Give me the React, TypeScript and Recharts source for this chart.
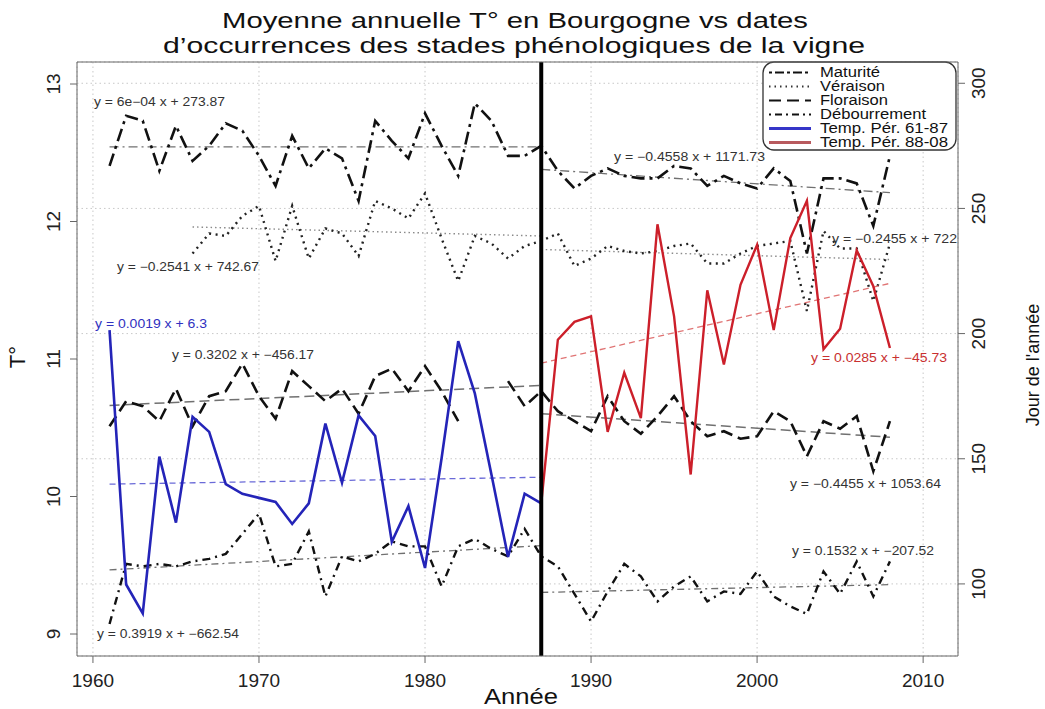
import React from 'react';
import { ComposedChart, Line, XAxis, YAxis, CartesianGrid, ReferenceLine } from 'recharts';

const FONT = '"Liberation Sans", Arial, Helvetica, sans-serif';

// years shown on the x axis
const years = [
  1961, 1962, 1963, 1964, 1965, 1966, 1967, 1968, 1969, 1970,
  1971, 1972, 1973, 1974, 1975, 1976, 1977, 1978, 1979, 1980,
  1981, 1982, 1983, 1984, 1985, 1986, 1987, 1988, 1989, 1990,
  1991, 1992, 1993, 1994, 1995, 1996, 1997, 1998, 1999, 2000,
  2001, 2002, 2003, 2004, 2005, 2006, 2007, 2008,
];
const yearTicks = [1960, 1970, 1980, 1990, 2000, 2010];
const tempTicks = [9, 10, 11, 12, 13];
const dayTicks = [100, 150, 200, 250, 300];

// mean annual temperature, 1961-1987 (blue) and 1987-2008 (red)
const tempPeriod1 = [
  11.21, 9.36, 9.15, 10.29, 9.81, 10.58, 10.47, 10.09, 10.02, 9.99,
  9.96, 9.8, 9.95, 10.53, 10.1, 10.59, 10.44, 9.67, 9.93, 9.48,
  10.28, 11.13, 10.75, 10.16, 9.56, 10.02, 9.95,
];
const tempPeriod2 = [
  9.95, 11.14, 11.27, 11.31, 10.47, 10.9, 10.57, 11.98, 11.31, 10.16,
  11.5, 10.96, 11.54, 11.83, 11.21, 11.88, 12.15, 11.07, 11.22, 11.79,
  11.53, 11.08,
];

// phenological stages, day of year
const maturite = [
  267, 287, 285, 265, 283, 269, 275, 284, 281, 271,
  259, 279, 266, 274, 270, 253, 285, 277, 270, 288,
  275, 263, 292, 285, 271, 271, 275, 265, 258, 263,
  266, 263, 262, 262, 267, 266, 259, 263, 260, 258,
  266, 261, 232, 262, 262, 260, 243, 271,
];
const veraisonStart = 1966;
const veraison = [
  232, 240, 239, 247, 251, 229, 251, 230, 242, 240,
  231, 253, 250, 246, 256, 238, 221, 239, 236, 230,
  235, 237, 240, 227, 230, 235, 233, 232, 233, 235,
  236, 228, 228, 232, 235, 236, 237, 209, 241, 234,
  234, 213, 236,
];
const floraison = [
  163, 173, 171, 165, 178, 163, 175, 177, 188, 175,
  166, 185, 179, 173, 178, 168, 183, 186, 177, 187,
  177, 165, null, null, 181, 171, 177, 169, 165, 161,
  175, 165, 160, 167, 175, 165, 159, 161, 158, 159,
  169, 165, 151, 165, 162, 167, 145, 165,
];
const debourrement = [
  84, 108, 107, 108, 107, 109, 110, 112, 120, 128,
  107, 108, 121, 95, 111, 109, 112, 117, 115, 115,
  99, 115, 118, 114, 111, 122, 111, 107, 96, 85,
  97, 108, 103, 93, 99, 103, 93, 97, 96, 105,
  95, 91, 88, 105, 96, 109, 95, 109,
];

// fitted trend segments, end points
const fitYears1 = [1961, 1987];
const fitYears2 = [1987, 2008];
const veraisonFitYears1 = [1966, 1987];
const tempFit1 = [10.09, 10.14];
const tempFit2 = [10.97, 11.55];
const maturiteFit1 = [274.6, 274.6];
const maturiteFit2 = [265.6, 256.3];
const veraisonFit1 = [242.6, 239.0];
const veraisonFit2 = [233.6, 229.6];
const floraisonFit1 = [171.3, 179.3];
const floraisonFit2 = [168.0, 158.6];
const debourrementFit1 = [105.6, 115.3];
const debourrementFit2 = [96.6, 99.7];

const rows: Record<string, number | null>[] = years.map((year, i) => {
  const row: Record<string, number | null> = {
    year,
    mat: maturite[i],
    flo: floraison[i],
    deb: debourrement[i],
  };
  if (year >= veraisonStart) row.ver = veraison[year - veraisonStart];
  if (year <= 1987) row.temp1 = tempPeriod1[i];
  if (year >= 1987) row.temp2 = tempPeriod2[year - 1987];
  return row;
});

const setFit = (key: string, ys: number[], vals: number[]) => {
  ys.forEach((y, k) => {
    const r = rows.find(row => row.year === y);
    if (r) r[key] = vals[k];
  });
};
setFit('tempFit1', fitYears1, tempFit1);
setFit('tempFit2', fitYears2, tempFit2);
setFit('matFit1', fitYears1, maturiteFit1);
setFit('matFit2', fitYears2, maturiteFit2);
setFit('verFit1', veraisonFitYears1, veraisonFit1);
setFit('verFit2', fitYears2, veraisonFit2);
setFit('floFit1', fitYears1, floraisonFit1);
setFit('floFit2', fitYears2, floraisonFit2);
setFit('debFit1', fitYears1, debourrementFit1);
setFit('debFit2', fitYears2, debourrementFit2);

const legendItems = [
  { label: 'Maturité', color: '#111', dash: '3 3 9 3', width: 2, w: 60 },
  { label: 'Véraison', color: '#333', dash: '1.5 4', width: 2, w: 65 },
  { label: 'Floraison', color: '#111', dash: '12 6', width: 2, w: 68 },
  { label: 'Débourrement', color: '#111', dash: '2 4 7 4', width: 2, w: 106 },
  { label: 'Temp. Pér. 61-87', color: '#3535c8', dash: '', width: 3, w: 128 },
  { label: 'Temp. Pér. 88-08', color: '#b85a5e', dash: '', width: 3, w: 128 },
];

const annotations = [
  { text: 'y = 6e\u221204 x + 273.87', x: 94, y: 102, w: 131, color: '#333' },
  { text: 'y = \u22120.2541 x + 742.67', x: 117, y: 267, w: 142, color: '#333' },
  { text: 'y = 0.0019 x + 6.3', x: 95, y: 324, w: 112, color: '#3030c0' },
  { text: 'y = 0.3202 x + \u2212456.17', x: 172, y: 355, w: 142, color: '#333' },
  { text: 'y = 0.3919 x + \u2212662.54', x: 97, y: 634, w: 142, color: '#333' },
  { text: 'y = \u22120.4558 x + 1171.73', x: 614, y: 157, w: 151, color: '#333' },
  { text: 'y = \u22120.2455 x + 722', x: 832, y: 239, w: 125, color: '#333' },
  { text: 'y = 0.0285 x + \u221245.73', x: 811, y: 358, w: 136, color: '#c83030' },
  { text: 'y = \u22120.4455 x + 1053.64', x: 790, y: 484, w: 151, color: '#333' },
  { text: 'y = 0.1532 x + \u2212207.52', x: 792, y: 551, w: 142, color: '#333' },
];

const XTick = (props: any) => {
  const { x, payload } = props;
  return (
    <text x={x} y={687} textAnchor="middle" fontSize={19} fontFamily={FONT} fill="#222">
      {payload.value}
    </text>
  );
};

const LeftTick = (props: any) => {
  const { y, payload } = props;
  return (
    <text transform={`translate(53,${y}) rotate(-90)`} textAnchor="middle" dy="0.36em" fontSize={19} fontFamily={FONT} fill="#222">
      {payload.value}
    </text>
  );
};

const RightTick = (props: any) => {
  const { y, payload } = props;
  return (
    <text transform={`translate(978,${y}) rotate(-90)`} textAnchor="middle" dy="0.36em" fontSize={19} fontFamily={FONT} fill="#222">
      {payload.value}
    </text>
  );
};

const LegendBox = () => (
  <svg width={196} height={92} style={{ position: 'absolute', left: 762, top: 61 }}>
    <rect x={1} y={1} width={193} height={88} rx={11} fill="#fff" stroke="#333" strokeWidth={1.3} />
    {legendItems.map((it, i) => {
      const cy = 11.5 + i * 14;
      return (
        <g key={it.label}>
          <line x1={7} x2={49} y1={cy} y2={cy} stroke={it.color} strokeWidth={it.width} strokeDasharray={it.dash || undefined} />
          <text x={58} y={cy} dy="0.35em" fontSize={14} fontFamily={FONT} fill="#111" textLength={it.w} lengthAdjust="spacingAndGlyphs">{it.label}</text>
        </g>
      );
    })}
  </svg>
);

export default function App() {
  return (
    <div style={{ position: 'absolute', left: 0, top: 0, width: 1045, height: 709, background: '#fff' }}>
      <ComposedChart width={1045} height={709} data={rows} margin={{ top: 62, right: 27, bottom: 23, left: 27 }}>
        <CartesianGrid yAxisId="d" stroke="#c8c8c8" strokeDasharray="1.5 3" horizontal vertical />
        <XAxis
          type="number"
          dataKey="year"
          domain={[1959.04, 2012.1]}
          ticks={yearTicks}
          height={30}
          tickSize={7}
          stroke="#666"
          tick={<XTick />}
        />
        <YAxis yAxisId="t" domain={[8.84, 13.16]} ticks={tempTicks} width={50} tickSize={7} stroke="#666" tick={<LeftTick />} />
        <YAxis yAxisId="d" orientation="right" domain={[71.2, 308.5]} ticks={dayTicks} width={60} tickSize={7} stroke="#666" tick={<RightTick />} />

        <Line yAxisId="d" dataKey="matFit1" stroke="#707070" strokeWidth={1.3} strokeDasharray="9 4 2 4" dot={false} connectNulls isAnimationActive={false} />
        <Line yAxisId="d" dataKey="matFit2" stroke="#707070" strokeWidth={1.3} strokeDasharray="9 4 2 4" dot={false} connectNulls isAnimationActive={false} />
        <Line yAxisId="d" dataKey="verFit1" stroke="#8a8a8a" strokeWidth={1.4} strokeDasharray="1.5 3" dot={false} connectNulls isAnimationActive={false} />
        <Line yAxisId="d" dataKey="verFit2" stroke="#8a8a8a" strokeWidth={1.4} strokeDasharray="1.5 3" dot={false} connectNulls isAnimationActive={false} />
        <Line yAxisId="d" dataKey="floFit1" stroke="#707070" strokeWidth={1.5} strokeDasharray="10 5" dot={false} connectNulls isAnimationActive={false} />
        <Line yAxisId="d" dataKey="floFit2" stroke="#707070" strokeWidth={1.5} strokeDasharray="10 5" dot={false} connectNulls isAnimationActive={false} />
        <Line yAxisId="d" dataKey="debFit1" stroke="#707070" strokeWidth={1.3} strokeDasharray="7 4 2 4" dot={false} connectNulls isAnimationActive={false} />
        <Line yAxisId="d" dataKey="debFit2" stroke="#707070" strokeWidth={1.3} strokeDasharray="7 4 2 4" dot={false} connectNulls isAnimationActive={false} />

        <Line yAxisId="d" dataKey="mat" stroke="#111" strokeWidth={2.6} strokeDasharray="13 5 3 5" dot={false} isAnimationActive={false} />
        <Line yAxisId="d" dataKey="ver" stroke="#222" strokeWidth={2.4} strokeDasharray="2 4.5" dot={false} isAnimationActive={false} />
        <Line yAxisId="d" dataKey="flo" stroke="#111" strokeWidth={2.6} strokeDasharray="12 6" dot={false} isAnimationActive={false} />
        <Line yAxisId="d" dataKey="deb" stroke="#111" strokeWidth={2.4} strokeDasharray="8 5 2 5" dot={false} isAnimationActive={false} />

        <Line yAxisId="t" dataKey="tempFit1" stroke="#6a6ad8" strokeWidth={1.3} strokeDasharray="6 4" dot={false} connectNulls isAnimationActive={false} />
        <Line yAxisId="t" dataKey="tempFit2" stroke="#e07474" strokeWidth={1.3} strokeDasharray="6 4" dot={false} connectNulls isAnimationActive={false} />
        <Line yAxisId="t" dataKey="temp1" stroke="#2424b8" strokeWidth={2.6} dot={false} isAnimationActive={false} />
        <Line yAxisId="t" dataKey="temp2" stroke="#cc1f2a" strokeWidth={2.4} dot={false} isAnimationActive={false} />

        <ReferenceLine yAxisId="t" x={1987} stroke="#000" strokeWidth={4} />
      </ComposedChart>

      <LegendBox />

      <svg width={1045} height={709} style={{ position: 'absolute', left: 0, top: 0, pointerEvents: 'none' }}>
        <line x1={77} x2={958} y1={62} y2={62} stroke="#666" strokeWidth={1} />
        <text x={515} y={28} textAnchor="middle" fontSize={22} fontFamily={FONT} fill="#111" textLength={586} lengthAdjust="spacingAndGlyphs">
          Moyenne annuelle T° en Bourgogne vs dates
        </text>
        <text x={514} y={53} textAnchor="middle" fontSize={22} fontFamily={FONT} fill="#111" textLength={702} lengthAdjust="spacingAndGlyphs">
          d’occurrences des stades phénologiques de la vigne
        </text>
        <text x={521} y={704} textAnchor="middle" fontSize={22} fontFamily={FONT} fill="#111" textLength={74} lengthAdjust="spacingAndGlyphs">
          Année
        </text>
        <text transform="translate(17,357) rotate(-90)" textAnchor="middle" dy="0.36em" fontSize={22} fontFamily={FONT} fill="#111">
          T°
        </text>
        <text transform="translate(1033,365) rotate(-90)" textAnchor="middle" dy="0.36em" fontSize={18} fontFamily={FONT} fill="#111">
          Jour de l'année
        </text>
        {annotations.map(a => (
          <text key={a.text} x={a.x} y={a.y} dy="0.36em" fontSize={12} fontFamily={FONT} fill={a.color} textLength={a.w} lengthAdjust="spacingAndGlyphs">
            {a.text}
          </text>
        ))}
      </svg>
    </div>
  );
}
